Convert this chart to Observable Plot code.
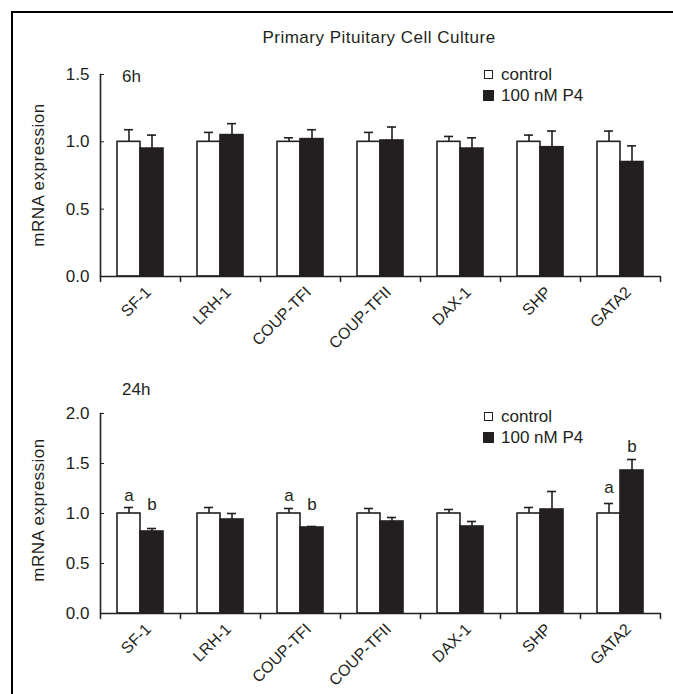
<!DOCTYPE html>
<html><head><meta charset="utf-8">
<script src="https://cdn.jsdelivr.net/npm/d3@7"></script>
<script src="https://cdn.jsdelivr.net/npm/@observablehq/plot@0.6"></script>
<style>
body{margin:0;background:#fff;}
#fig{position:relative;width:673px;height:694px;overflow:hidden;background:#fff;font-family:"Liberation Sans",Arial,sans-serif;color:#231f20;}
.border{position:absolute;left:11px;top:11px;width:720px;height:720px;border-left:2px solid #000;border-top:2px solid #000;}
.abs{position:absolute;white-space:nowrap;}
.title{left:229px;width:300px;top:28px;text-align:center;font-size:17px;letter-spacing:0.5px;}
.ylab{font-size:17px;letter-spacing:0.5px;transform:translate(-50%,-50%) rotate(-90deg);}
.tag{font-size:17px;}
.legend{font-size:17px;line-height:21px;}
.legend .row{display:flex;align-items:center;}
.sw{display:inline-block;box-sizing:border-box;margin-right:7px;}
.sw.c{width:9px;height:9px;border:1.5px solid #231f20;background:#fff;margin-left:1px;margin-right:8px;}
.sw.p{width:11px;height:11px;background:#231f20;}
.plot{position:absolute;left:0;}
</style>
</head><body>
<div id="fig">
  <div class="border"></div>
  <div class="abs title">Primary Pituitary Cell Culture</div>
  <div class="abs tag" style="left:122px;top:67px;">6h</div>
  <div class="abs tag" style="left:122px;top:380px;">24h</div>
  <div class="abs ylab" style="left:39px;top:175px;">mRNA expression</div>
  <div class="abs ylab" style="left:39px;top:510px;">mRNA expression</div>
  <div class="abs legend" style="left:483px;top:64px;">
    <div class="row"><span class="sw c"></span>control</div>
    <div class="row"><span class="sw p"></span>100 nM P4</div>
  </div>
  <div class="abs legend" style="left:483px;top:406px;">
    <div class="row"><span class="sw c"></span>control</div>
    <div class="row"><span class="sw p"></span>100 nM P4</div>
  </div>
  <div id="top" class="plot" style="top:55px;"></div>
  <div id="bottom" class="plot" style="top:380px;"></div>
</div>
<script>
const genes = ["SF-1","LRH-1","COUP-TFI","COUP-TFII","DAX-1","SHP","GATA2"];
const treatments = ["control","100 nM P4"];

// 6h
const control6h    = [1.00, 1.00, 1.00, 1.00, 1.00, 1.00, 1.00];
const control6hErr = [0.09, 0.07, 0.03, 0.07, 0.04, 0.05, 0.08];
const p4_6h        = [0.95, 1.05, 1.02, 1.01, 0.95, 0.96, 0.85];
const p4_6hErr     = [0.10, 0.085, 0.07, 0.10, 0.08, 0.12, 0.12];
const yTicks6h     = [0, 0.5, 1.0, 1.5];

// 24h
const control24h    = [1.00, 1.00, 1.00, 1.00, 1.00, 1.00, 1.00];
const control24hErr = [0.06, 0.06, 0.05, 0.05, 0.04, 0.06, 0.10];
const p4_24h        = [0.82, 0.94, 0.86, 0.92, 0.87, 1.04, 1.43];
const p4_24hErr     = [0.03, 0.06, 0.01, 0.04, 0.05, 0.18, 0.11];
const yTicks24h     = [0, 0.5, 1.0, 1.5, 2.0];

// significance letters (24h)
const sigGene  = ["SF-1","SF-1","COUP-TFI","COUP-TFI","GATA2","GATA2"];
const sigTreat = ["control","100 nM P4","control","100 nM P4","control","100 nM P4"];
const sigText  = ["a","b","a","b","a","b"];
const sigY     = [1.18, 1.09, 1.18, 1.09, 1.26, 1.67];

const ink = "#231f20";
const font = "'Liberation Sans', Arial, sans-serif";
const tickShape = {draw(context, l) { context.moveTo(0, 0); context.lineTo(0, -l); }};

function panel({ctrl, ctrlErr, p4, p4Err, yMax, yTicks, height, marginTop, marginBottom, sig}) {
  const rows = genes.flatMap((g, i) => [
    {gene: g, treatment: treatments[0], value: ctrl[i], err: ctrlErr[i]},
    {gene: g, treatment: treatments[1], value: p4[i], err: p4Err[i]}
  ]);
  const marks = [
    Plot.ruleX(rows, {fx: "gene", x: "treatment", y1: "value", y2: d => d.value + d.err, stroke: ink, strokeWidth: 1.6}),
    Plot.tickY(rows, {fx: "gene", x: "treatment", y: d => d.value + d.err, insetLeft: 7, insetRight: 7, stroke: ink, strokeWidth: 1.6}),
    Plot.barY(rows, {fx: "gene", x: "treatment", y: "value", fill: "treatment", stroke: ink, strokeWidth: 1.6}),
    Plot.ruleY([0], {stroke: ink, strokeWidth: 1.6}),
    Plot.frame({anchor: "left", facetAnchor: "left", stroke: ink, strokeWidth: 1.6}),
    Plot.vector([0], {frameAnchor: "bottom-left", length: 5, rotate: 180, anchor: "start", shape: tickShape, stroke: ink, strokeWidth: 1.5}),
    Plot.vector([0], {frameAnchor: "bottom-right", facetAnchor: "right", length: 5, rotate: 180, anchor: "start", shape: tickShape, stroke: ink, strokeWidth: 1.5}),
    Plot.axisY({ticks: yTicks, tickFormat: d3.format(".1f"), tickSize: -4, tickPadding: 15, fontSize: 17, label: null, stroke: ink}),
    // category labels, rotated 45°, one per facet
    Plot.text(genes, {fx: d => d, text: d => d, frameAnchor: "bottom", rotate: -45, textAnchor: "end",
                      lineAnchor: "middle", dx: 8, dy: 13, fontSize: 16, fill: ink})
  ];
  if (sig) {
    const sigRows = sig.gene.map((g, i) => ({gene: g, treatment: sig.treat[i], text: sig.text[i], y: sig.y[i]}));
    marks.push(Plot.text(sigRows, {fx: "gene", x: "treatment", y: "y", text: "text", fontSize: 17, fill: ink}));
  }
  return Plot.plot({
    width: 673, height, marginLeft: 97, marginRight: 11, marginTop, marginBottom,
    style: {fontFamily: font, fontSize: "16px", color: ink, background: "transparent", overflow: "visible"},
    fx: {domain: genes, paddingInner: 0, paddingOuter: 0, label: null, axis: null},
    x: {domain: treatments, paddingInner: 0, paddingOuter: 0.73, axis: null},
    y: {domain: [0, yMax], label: null},
    color: {domain: treatments, range: ["#ffffff", ink]},
    marks
  });
}

document.getElementById("top").append(panel({
  ctrl: control6h, ctrlErr: control6hErr, p4: p4_6h, p4Err: p4_6hErr,
  yMax: 1.5, yTicks: yTicks6h, height: 290, marginTop: 19, marginBottom: 69
}));
document.getElementById("bottom").append(panel({
  ctrl: control24h, ctrlErr: control24hErr, p4: p4_24h, p4Err: p4_24hErr,
  yMax: 2.0, yTicks: yTicks24h, height: 314, marginTop: 33, marginBottom: 81,
  sig: {gene: sigGene, treat: sigTreat, text: sigText, y: sigY}
}));
</script>
</body></html>
